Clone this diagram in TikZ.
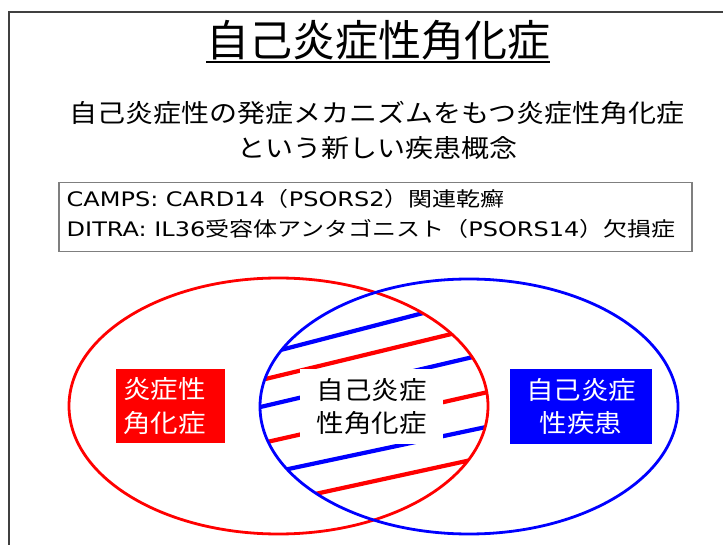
\documentclass[tikz,border=0pt]{standalone}
\usepackage{fontspec}
\newfontfamily\jpTitle{Noto Sans CJK JP}
\newfontfamily\jpSub[FakeStretch=1.12]{Noto Sans CJK JP}
\newfontfamily\jpBox[FakeStretch=1.2]{Noto Sans CJK JP}
\newfontfamily\latBox[FakeStretch=1.2]{DejaVu Sans}
\newfontfamily\jpVenn[FakeStretch=1.1]{Noto Sans CJK JP}
\definecolor{pptred}{RGB}{255,0,0}
\definecolor{pptblue}{RGB}{0,0,255}
\definecolor{framegray}{RGB}{64,64,64}
\definecolor{boxgray}{RGB}{127,127,127}
\tikzset{
  plain/.style={inner sep=0pt, outer sep=0pt},
  stripe/.style={line width=4.2pt, shorten <=-25pt, shorten >=-25pt},
  vennring/.style={line width=2.8pt},
  vennlabel/.style={inner sep=0pt, outer sep=0pt, align=center,
    font=\jpVenn\fontsize{25}{33.5}\selectfont},
}
\begin{document}
\begin{tikzpicture}[x=1pt,y=-1pt]
\useasboundingbox (0,0) rectangle (723,545);
% slide frame (partly outside the view)
\draw[framegray, line width=2pt] (8.7,545) -- (8.7,12) -- (723,12);

% title
\node[plain, font=\jpTitle\fontsize{43}{48}\selectfont] (title) at (378,40) {自己炎症性角化症};
\draw[line width=2pt] ([yshift=-2.5pt]title.south west) -- ([yshift=-2.5pt]title.south east);

% subtitle
\node[plain, align=center, font=\jpSub\fontsize{25}{35}\selectfont] (sub) at (377,130.5)
  {自己炎症性の発症メカニズムをもつ炎症性角化症\\という新しい疾患概念};

% info box
\node[draw=boxgray, line width=1.3pt, minimum width=633pt, minimum height=69pt, inner sep=0pt] (infobox) at (375.5,217.2) {};
\node[plain, anchor=base west, font=\latBox\fontsize{20}{24}\selectfont] (camps) at (66.7,207)
  {CAMPS: CARD14{\jpBox （}PSORS2{\jpBox ）関連乾癬}};
\node[plain, anchor=base west, font=\latBox\fontsize{20}{24}\selectfont] (ditra) at (66.7,236.7)
  {DITRA: IL36{\jpBox 受容体アンタゴニスト（}PSORS14{\jpBox ）欠損症}};

% hatched intersection
\begin{scope}
  \clip (278.5,406) ellipse [x radius=209.5pt, y radius=128pt];
  \clip (469,406.5) ellipse [x radius=209pt, y radius=127.5pt];
  \draw[stripe, pptblue] (283.3,349.3) -- (418.3,314.3);
  \draw[stripe, pptred]  (268.3,378.3) -- (447.3,335);
  \draw[stripe, pptblue] (261.7,406.7) -- (470,357.7);
  \draw[stripe, pptred]  (268.3,441.7) -- (485,392.7);
  \draw[stripe, pptblue] (291.7,468.3) -- (480,428.3);
  \draw[stripe, pptred]  (318.3,493.3) -- (463.3,461.7);
\end{scope}

% ellipses
\draw[vennring, pptred]  (278.5,406) ellipse [x radius=209.5pt, y radius=128pt];
\draw[vennring, pptblue] (469,406.5) ellipse [x radius=209pt, y radius=127.5pt];

% labels
\node[vennlabel, align=left, inner xsep=7pt, text width=95pt, fill=pptred, text=white, minimum height=74pt] (inflam) at (170.5,406)
  {炎症性\\角化症};
\node[vennlabel, fill=pptblue, text=white, minimum width=142pt, minimum height=75pt] (autoinf) at (581,406.5)
  {自己炎症\\性疾患};
\node[vennlabel, fill=white, text=black, minimum width=143pt, minimum height=75pt] (both) at (371.5,406.5)
  {自己炎症\\性角化症};
\end{tikzpicture}
\end{document}
